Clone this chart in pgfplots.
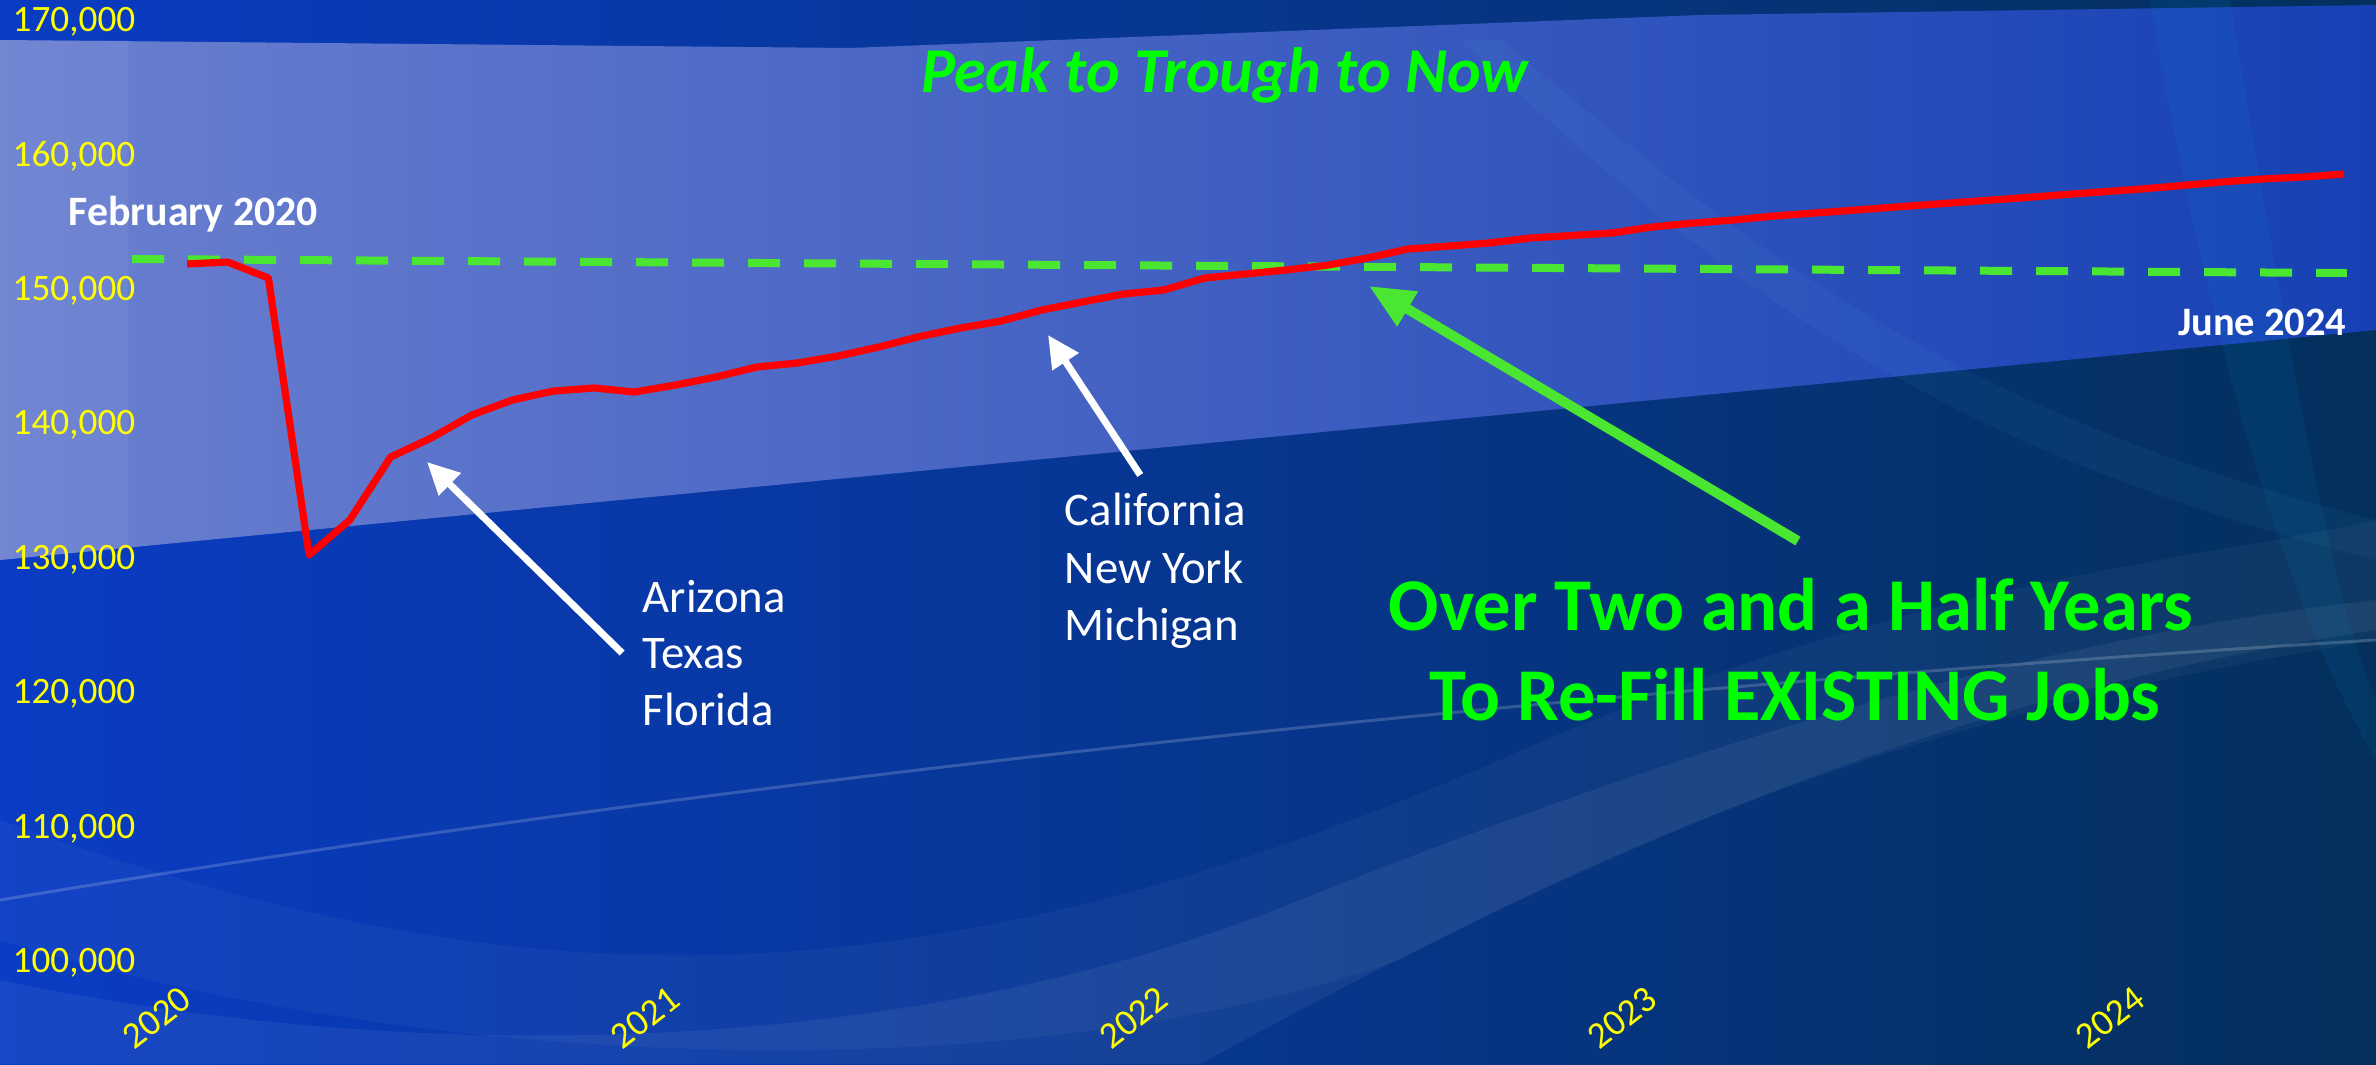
\documentclass[border=0pt]{standalone}
\usepackage{fontspec}
\setmainfont{Carlito}
\usepackage{pgfplots}
\pgfplotsset{compat=1.18}
\usetikzlibrary{arrows.meta}
\definecolor{ytick}{HTML}{FFFF00}
\definecolor{redline}{HTML}{FF0000}
\definecolor{gline}{HTML}{4BE632}
\definecolor{gtext}{HTML}{00FF00}
\definecolor{bgL}{HTML}{0A3CC4}
\definecolor{bgM}{HTML}{0838B8}
\definecolor{bgR}{HTML}{04305C}
\definecolor{bandL}{HTML}{6B80D0}
\definecolor{bandM}{HTML}{4C70DA}
\definecolor{bandR}{HTML}{1640B4}
\begin{document}
\begin{tikzpicture}
\useasboundingbox (0,0) rectangle (237.6mm,106.4mm);
\begin{scope}[shift={(0,106.4mm)}, x=0.1mm, y=-0.1mm]
  \shade[left color=bgL, middle color=bgM, right color=bgR] (0,0) rectangle (2376,1064);
  \fill[white, opacity=0.04] (0,820) .. controls (500,1000) and (900,1020) .. (1500,760) .. controls (1900,580) and (2200,560) .. (2376,520) -- (2376,640) .. controls (2000,700) and (1700,800) .. (1400,960) .. controls (1000,1100) and (400,1064) .. (0,940) -- cycle;
  \fill[white, opacity=0.06] (0,980) .. controls (400,1064) and (900,1064) .. (1300,900) .. controls (1600,780) and (2000,640) .. (2376,600) -- (2376,630) .. controls (1900,700) and (1500,900) .. (1200,1064) -- (0,1064) -- cycle;
  \draw[white, opacity=0.18, line width=0.3mm] (0,900) .. controls (600,800) and (1400,700) .. (2376,640);
  \shade[left color=bandL, middle color=bandM, right color=bandR] (0,40) -- (850,48) -- (1700,15) -- (2376,5) -- (2376,330) -- (0,560) -- cycle;
  \fill[white, opacity=0.05] (0,40) -- (128,40) -- (128,548) -- (0,560) -- cycle;
  \fill[cyan, opacity=0.07] (2150,0) -- (2230,0) .. controls (2280,300) and (2330,600) .. (2376,700) -- (2376,760) .. controls (2280,600) and (2200,300) .. cycle;
  \fill[cyan!60!white, opacity=0.05] (1500,40) .. controls (1700,200) and (1900,400) .. (2376,520) -- (2376,560) .. controls (1900,440) and (1700,260) .. (1460,40) -- cycle;
\end{scope}
\begin{axis}[
  at={(0,0)}, anchor=south west, scale only axis,
  width=237.6mm, height=106.4mm,
  xmin=-4.595, xmax=53.784, ymin=92470, ymax=171637,
  axis line style={draw=none}, tick style={draw=none},
  ytick={100000,110000,120000,130000,140000,150000,160000,170000},
  xtick={0,12,24,36,48}, xticklabels={2020,2021,2022,2023,2024},
  scaled y ticks=false,
  /pgf/number format/assume math mode=true,
  yticklabel style={/pgf/number format/fixed, /pgf/number format/1000 sep={,}, anchor=west, inner sep=0pt, xshift=1.2mm},
  xticklabel style={yshift=7.0mm, rotate=38, anchor=east, inner sep=0pt},
  tick label style={font=\fontsize{10.6}{12}\selectfont, text=ytick},
  clip=false,
]
\addplot[gline, line width=0.8mm, dash pattern=on 3.2mm off 2.4mm, mark=none] coordinates {(-1.35,152366) (53.07,151324)};
\addplot[redline, line width=0.72mm, line join=round, mark=none] coordinates {
(0,152000) (1,152140) (2,150950) (3,130340) (4,132950) (5,137630) (6,139050) (7,140760)
(8,141880) (9,142540) (10,142770) (11,142470) (12,142990) (13,143590) (14,144330) (15,144630)
(16,145150) (17,145820) (18,146600) (19,147230) (20,147750) (21,148570) (22,149170) (23,149760)
(24,150060) (25,150950) (26,151250) (27,151550) (28,151900) (29,152440) (30,153110) (31,153330)
(32,153560) (33,153930) (34,154110) (35,154300) (36,154750) (37,155040) (38,155270) (39,155570)
(40,155790) (41,156010) (42,156240) (43,156460) (44,156680) (45,156900) (46,157130) (47,157350)
(48,157570) (49,157830) (50,158100) (51,158320) (52,158470) (53,158690)};
\node[anchor=base, inner sep=0pt, font=\fontsize{18.2}{22}\selectfont\bfseries\itshape, text=gtext] at (axis cs:25.5,164740) {Peak to Trough to Now};
\node[anchor=base west, inner sep=0pt, font=\fontsize{11.9}{14}\selectfont\bfseries, text=white] at (axis cs:-2.92,154896) {February 2020};
\node[anchor=base east, inner sep=0pt, font=\fontsize{11.5}{14}\selectfont\bfseries, text=white] at (axis cs:53.07,146711) {June 2024};
\node[anchor=base west, inner sep=0pt, font=\fontsize{13.3}{15}\selectfont, text=white] at (axis cs:11.18,126101) {Arizona};
\node[anchor=base west, inner sep=0pt, font=\fontsize{13.3}{15}\selectfont, text=white] at (axis cs:11.18,121935) {Texas};
\node[anchor=base west, inner sep=0pt, font=\fontsize{13.3}{15}\selectfont, text=white] at (axis cs:11.18,117693) {Florida};
\node[anchor=base west, inner sep=0pt, font=\fontsize{13.3}{15}\selectfont, text=white] at (axis cs:21.55,132574) {California};
\node[anchor=base west, inner sep=0pt, font=\fontsize{13.3}{15}\selectfont, text=white] at (axis cs:21.55,128259) {New York};
\node[anchor=base west, inner sep=0pt, font=\fontsize{13.3}{15}\selectfont, text=white] at (axis cs:21.55,124018) {Michigan};
\node[anchor=base, inner sep=0pt, font=\fontsize{21.2}{25}\selectfont\bfseries, text=gtext] at (axis cs:39.41,124762) {Over Two and a Half Years};
\node[anchor=base, inner sep=0pt, font=\fontsize{21.2}{25}\selectfont\bfseries, text=gtext] at (axis cs:39.51,118065) {To Re-Fill EXISTING Jobs};
\draw[white, line width=0.7mm, -{Triangle[length=3.2mm,width=3mm]}] (axis cs:10.69,123051) -- (axis cs:5.897,137262);
\draw[white, line width=0.7mm, -{Triangle[length=3.2mm,width=3mm]}] (axis cs:23.42,136295) -- (axis cs:21.155,146711);
\draw[gline, line width=1mm, -{Triangle[length=4.5mm,width=3.8mm]}] (axis cs:39.58,131384) -- (axis cs:29.04,150357);
\end{axis}
\end{tikzpicture}
\end{document}
